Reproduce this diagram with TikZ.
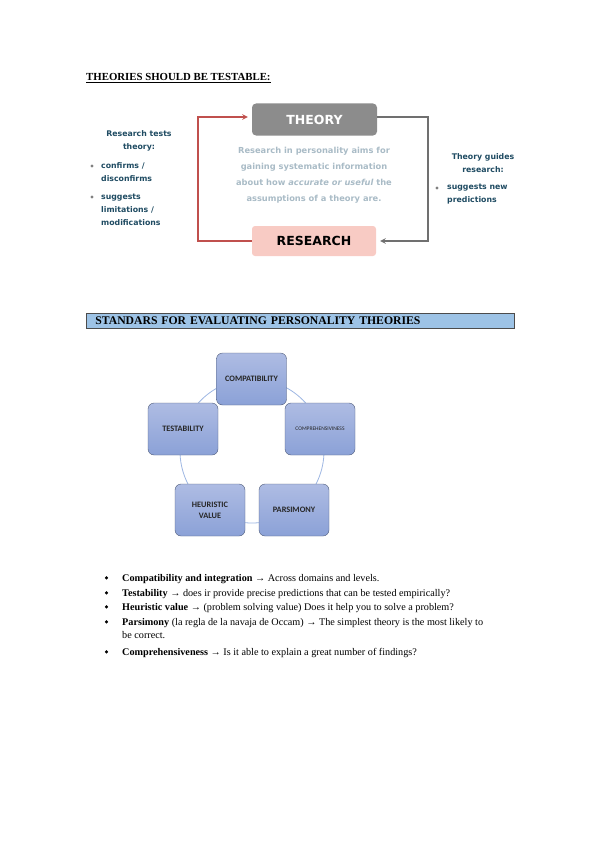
\documentclass[tikz,border=0pt]{standalone}
\usepackage{fontspec}
\setmainfont{Liberation Serif}
\newfontfamily\diagfont{DejaVu Sans}
\newfontfamily\boxfont{Carlito}
\usetikzlibrary{positioning}

\definecolor{theorygray}{HTML}{8C8C8C}
\definecolor{researchpink}{HTML}{F8CBC4}
\definecolor{loopred}{HTML}{C0504D}
\definecolor{loopgray}{HTML}{707070}
\definecolor{noteteal}{HTML}{1F4B62}
\definecolor{aimsgray}{HTML}{A9BBC6}
\definecolor{headblue}{HTML}{9DC3E6}
\definecolor{ringblue}{HTML}{9DB6E2}
\definecolor{stdtop}{HTML}{AEBCE3}
\definecolor{stdbottom}{HTML}{8BA1D7}
\definecolor{stdborder}{HTML}{4E5B78}

\begin{document}
\begin{tikzpicture}[x=1pt,y=-1pt,
    notetext/.style={inner sep=0pt,text=noteteal,font=\diagfont\bfseries\fontsize{7.8}{13}\selectfont},
    notedot/.style={fill=gray},
    stdbox/.style={draw=stdborder,rounded corners=6pt,top color=stdtop,bottom color=stdbottom,
        minimum width=70pt,minimum height=52pt,align=center,
        font=\boxfont\bfseries\fontsize{8.3}{11}\selectfont,text=black!85},
    itemtext/.style={anchor=base west,inner sep=0pt,font=\fontsize{10.2}{12}\selectfont}]
\useasboundingbox (0,0) rectangle (599,848);

% first part
\node[anchor=base west,inner sep=0pt,font=\bfseries\fontsize{10.8}{12}\selectfont] (title) at (86,81) {\underline{THEORIES SHOULD BE TESTABLE:}};

\node[fill=theorygray,rounded corners=4pt,minimum width=125pt,minimum height=32pt,text=white,
    font=\diagfont\bfseries\fontsize{12.5}{14}\selectfont] (theory) at (314.5,119.5) {THEORY};
\node[fill=researchpink,rounded corners=3pt,minimum width=124pt,minimum height=30pt,text=black,
    font=\diagfont\bfseries\fontsize{12.5}{14}\selectfont] (research) at (314,241) {RESEARCH};

\node[align=center,inner sep=0pt,text=aimsgray,font=\diagfont\bfseries\fontsize{8.3}{16}\selectfont] (aims) at (314,175)
    {Research in personality aims for\\gaining systematic information\\about how \textit{accurate or useful} the\\assumptions of a theory are.};

\coordinate (leftturn) at (198,117);
\coordinate (rightturn) at (428,117);
\draw[loopred,line width=1.4pt,-stealth,shorten >=4pt] (research.west) -| (leftturn) -- (theory.west |- leftturn);
\draw[loopgray,line width=1.4pt,-stealth,shorten >=4pt] (theory.east |- rightturn) -- (rightturn) |- (research.east);

% left and right notes
\node[notetext,align=center] (tests) at (139,140.5) {Research tests\\theory:};
\node[notetext,align=left,anchor=west] (confirms) at (101,172.5) {confirms /\\disconfirms};
\node[notetext,align=left,anchor=west] (limits) at (101,210) {suggests\\limitations /\\modifications};
\fill[notedot] (92,166) circle (1.6pt);
\fill[notedot] (92,197) circle (1.6pt);

\node[notetext,align=center] (guides) at (483,163.5) {Theory guides\\research:};
\node[notetext,align=left,anchor=west] (predicts) at (447,194.5) {suggests new\\predictions};
\fill[notedot] (437,188) circle (1.6pt);

% second part
\node[draw=black!70,fill=headblue,line width=0.8pt,minimum width=428pt,minimum height=15pt,anchor=west,
    text width=420pt,align=left,inner sep=0pt,font=\bfseries\fontsize{11.7}{12}\selectfont] (standards) at (86,320.5)
    {\hspace{5pt}STANDARS FOR EVALUATING PERSONALITY THEORIES};

\draw[ringblue,line width=0.8pt] (252,451) circle (72pt);

\node[stdbox] (compat) at (251.5,379) {COMPATIBILITY};
\node[stdbox] (compre) at (320,429) {\fontsize{5.5}{6}\selectfont\mdseries COMPREHENSIVINESS};
\node[stdbox] (parsim) at (294,510) {PARSIMONY};
\node[stdbox] (heur) at (210,510) {HEURISTIC\\VALUE};
\node[stdbox] (testab) at (183,429) {TESTABILITY};

% bullet list
\foreach \y in {581,596,610,625,655}
    \fill (106.5,\y-3.2) circle (1.7pt);
\node[itemtext] (item1) at (122,581) {\textbf{Compatibility and integration} → Across domains and levels.};
\node[itemtext] (item2) at (122,596) {\textbf{Testability} → does ir provide precise predictions that can be tested empirically?};
\node[itemtext] (item3) at (122,610) {\textbf{Heuristic value} → (problem solving value) Does it help you to solve a problem?};
\node[itemtext] (item4) at (122,625) {\textbf{Parsimony} (la regla de la navaja de Occam) → The simplest theory is the most likely to};
\node[itemtext] (item4b) at (122,638) {be correct.};
\node[itemtext] (item5) at (122,655) {\textbf{Comprehensiveness} → Is it able to explain a great number of findings?};

\end{tikzpicture}
\end{document}
